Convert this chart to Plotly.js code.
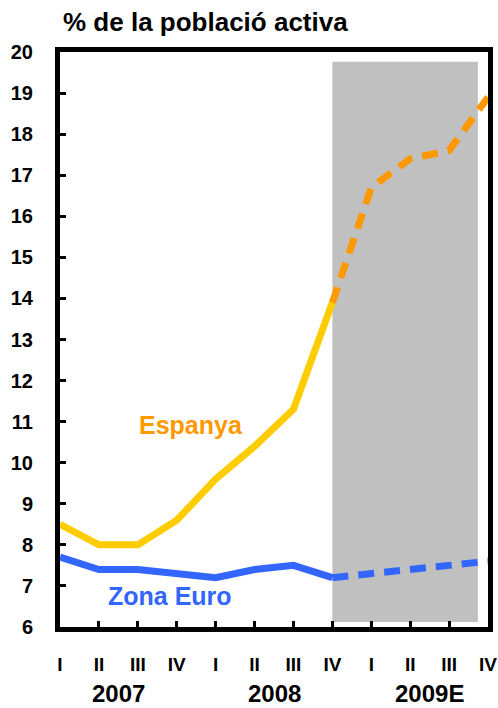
<!DOCTYPE html>
<html>
<head>
<meta charset="utf-8">
<script src="https://cdn.plot.ly/plotly-3.0.1.min.js"></script>
<style>
html,body{margin:0;padding:0;background:#fff;}
#chart{width:498px;height:708px;}
</style>
</head>
<body>
<div id="chart"></div>
<script>
const quarters = ['I','II','III','IV','I','II','III','IV','I','II','III','IV'];
const years = ['2007','2008','2009E'];
const espanyaObs = [8.5, 8.0, 8.0, 8.6, 9.6, 10.4, 11.3, 13.9];
const espanyaPrev = [13.9, 16.7, 17.4, 17.6, 18.9];
const euroObs = [7.7, 7.4, 7.4, 7.3, 7.2, 7.4, 7.5, 7.2];
const euroPrev = [7.2, 7.3, 7.4, 7.5, 7.6];
const seriesNames = ['Espanya', 'Zona Euro'];
const yTicks = [6,7,8,9,10,11,12,13,14,15,16,17,18,19,20];

const xObs = espanyaObs.map((_, i) => i);
const xPrev = espanyaPrev.map((_, i) => i + espanyaObs.length - 1);
const FONT = 'Liberation Sans, Arial, Helvetica, sans-serif';

const traces = [
  {x: xObs, y: euroObs, mode: 'lines', line: {color: '#3366FF', width: 7}, hoverinfo: 'skip'},
  {x: xPrev, y: euroPrev, mode: 'lines', line: {color: '#3366FF', width: 7, dash: '16px,10px'}, hoverinfo: 'skip'},
  {x: xObs, y: espanyaObs, mode: 'lines', line: {color: '#FFCC00', width: 7}, hoverinfo: 'skip'},
  {x: xPrev, y: espanyaPrev, mode: 'lines', line: {color: '#FF9900', width: 7, dash: '16px,10px'}, hoverinfo: 'skip'}
];

const annotations = [
  {x: 3.37, y: 10.92, xref: 'x', yref: 'y', text: seriesNames[0], showarrow: false,
   font: {family: FONT, size: 25, color: '#FF9900', weight: 700}},
  {x: 2.83, y: 6.75, xref: 'x', yref: 'y', text: seriesNames[1], showarrow: false,
   font: {family: FONT, size: 25, color: '#3366FF', weight: 700}}
];
years.forEach((yr, k) => {
  annotations.push({x: 4 * k + 1.5, y: -0.115, xref: 'x', yref: 'paper', text: yr, showarrow: false,
    yanchor: 'middle', font: {family: FONT, size: 24, color: '#000', weight: 700}});
});

const layout = {
  width: 498, height: 708,
  margin: {l: 60, r: 10, t: 52, b: 81},
  paper_bgcolor: '#fff', plot_bgcolor: '#fff',
  showlegend: false,
  title: {text: '% de la població activa', x: 63/498, xanchor: 'left', xref: 'container',
          y: 1 - 22/708, yanchor: 'middle', yref: 'container',
          font: {family: FONT, size: 26, color: '#000', weight: 700}},
  xaxis: {range: [0, 11], tickvals: quarters.map((_, i) => i), ticktext: quarters,
          showgrid: false, zeroline: false, showline: true, linecolor: '#000', linewidth: 5, mirror: true,
          ticks: 'inside', ticklen: 6, tickwidth: 3, tickcolor: '#000', ticklabelstandoff: 16,
          tickfont: {family: FONT, size: 19, color: '#000', weight: 700}, fixedrange: true},
  yaxis: {range: [6, 20], tickvals: yTicks, showgrid: false, zeroline: false,
          showline: true, linecolor: '#000', linewidth: 5, mirror: true,
          ticks: 'inside', ticklen: 6, tickwidth: 3, tickcolor: '#000', ticklabelstandoff: 18,
          tickfont: {family: FONT, size: 20, color: '#000', weight: 700}, fixedrange: true},
  shapes: [{type: 'rect', xref: 'x', yref: 'y', x0: 7, x1: 10.74, y0: 6.12, y1: 19.76,
            fillcolor: '#C0C0C0', line: {width: 0}, layer: 'below'}],
  annotations: annotations
};

Plotly.newPlot('chart', traces, layout, {displayModeBar: false, staticPlot: true});
</script>
</body>
</html>
